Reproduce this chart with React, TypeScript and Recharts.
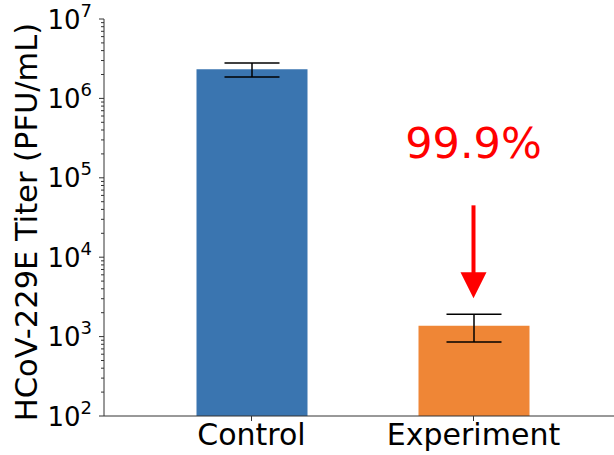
import React from "react";
import {
  BarChart,
  Bar,
  XAxis,
  YAxis,
  ErrorBar,
  Cell,
  ReferenceLine,
  ReferenceDot,
} from "recharts";

const categories = ["Control", "Experiment"];
const titerValues = [2330000, 1370];
const errorLower = [470000, 515];
const errorUpper = [460000, 540];
const barColors = ["#3a75b0", "#ef8636"];

const majorTicks = [100, 1000, 10000, 100000, 1000000, 10000000];
const majorTickExponents = ["2", "3", "4", "5", "6", "7"];
const minorTicks = [
  200, 300, 400, 500, 600, 700, 800, 900,
  2000, 3000, 4000, 5000, 6000, 7000, 8000, 9000,
  20000, 30000, 40000, 50000, 60000, 70000, 80000, 90000,
  200000, 300000, 400000, 500000, 600000, 700000, 800000, 900000,
  2000000, 3000000, 4000000, 5000000, 6000000, 7000000, 8000000, 9000000,
];
const allYTicks = [...majorTicks, ...minorTicks].sort((a, b) => a - b);

const yAxisLabel = "HCoV-229E Titer (PFU/mL)";
const annotationText = "99.9%";
const annotationCategory = "Experiment";
const annotationTextValue = 180000;
const arrowStartValue = 45000;
const arrowEndValue = 3050;

const data = categories.map((name, i) => ({
  name,
  titer: titerValues[i],
  err: [errorLower[i], errorUpper[i]],
}));

const FONT = "DejaVu Sans";
const AXIS_COLOR = "#333";

const YTick = (props: any) => {
  const { x, y, payload } = props;
  const idx = majorTicks.indexOf(payload.value);
  if (idx < 0) {
    return <line x1={x - 3} y1={y} x2={x} y2={y} stroke={AXIS_COLOR} strokeWidth={1} />;
  }
  const exp = majorTickExponents[idx];
  return (
    <g>
      <line x1={x - 5} y1={y} x2={x} y2={y} stroke={AXIS_COLOR} strokeWidth={1} />
      <text x={x - 12} y={y} textAnchor="end" fontFamily={FONT} fill="#000">
        <tspan fontSize={26} dy={9.5}>10</tspan>
        <tspan fontSize={18} dy={-12}>{exp}</tspan>
      </text>
    </g>
  );
};

const XTick = (props: any) => {
  const { x, y, payload } = props;
  return (
    <text x={x} y={y + 22} textAnchor="middle" fontFamily={FONT} fontSize={30} fill="#000">
      {payload.value}
    </text>
  );
};

const Arrow = (props: any) => {
  const { x1, y1, x2, y2 } = props;
  if (x1 == null || y1 == null) return <g />;
  const headLen = 26;
  const headHalf = 13;
  return (
    <g>
      <line x1={x1} y1={y1} x2={x2} y2={y2 - headLen + 1} stroke="#ff0000" strokeWidth={4} />
      <polygon
        points={`${x2 - headHalf},${y2 - headLen} ${x2 + headHalf},${y2 - headLen} ${x2},${y2}`}
        fill="#ff0000"
      />
    </g>
  );
};

const AnnotationText = (props: any) => {
  const { cx, cy } = props;
  return (
    <text x={cx} y={cy} textAnchor="middle" fontFamily={FONT} fontSize={43} fill="#ff0000">
      {annotationText}
    </text>
  );
};

const YLabel = () => {
  return (
    <text
      x={37}
      y={222}
      transform="rotate(-90 37 222)"
      textAnchor="middle"
      fontFamily={FONT}
      fontSize={30.5}
      fill="#000"
    >
      {yAxisLabel}
    </text>
  );
};

export default function App() {
  return (
    <div
      style={{
        position: "absolute",
        left: 0,
        top: 0,
        width: 614,
        height: 455,
        overflow: "hidden",
        background: "#fff",
      }}
    >
      <BarChart
        width={640}
        height={455}
        data={data}
        margin={{ top: 19, right: 19, bottom: 0, left: 0 }}
        barSize={111}
      >
        <XAxis
          dataKey="name"
          xAxisId="bottom"
          height={39}
          padding={{ left: 36.5, right: 36.5 }}
          stroke={AXIS_COLOR}
          tickSize={5}
          tick={<XTick />}
          interval={0}
        />
        <XAxis
          dataKey="name"
          xAxisId="top"
          orientation="top"
          height={0}
          padding={{ left: 36.5, right: 36.5 }}
          stroke={AXIS_COLOR}
          tick={false}
          tickLine={false}
        />
        <YAxis
          yAxisId="y"
          scale="log"
          type="number"
          domain={[100, 10000000]}
          ticks={allYTicks}
          allowDataOverflow
          width={104}
          stroke={AXIS_COLOR}
          tickLine={false}
          tickSize={0}
          tickMargin={0}
          tick={<YTick />}
          interval={0}
          label={<YLabel />}
        />
        <Bar
          dataKey="titer"
          xAxisId="bottom"
          yAxisId="y"
          isAnimationActive={false}
        >
          {data.map((d, i) => (
            <Cell key={d.name} fill={barColors[i]} />
          ))}
          <ErrorBar
            dataKey="err"
            width={27.5}
            stroke="#000"
            strokeWidth={1.5}
            isAnimationActive={false}
          />
        </Bar>
        <ReferenceLine
          xAxisId="bottom"
          yAxisId="y"
          segment={[
            { x: annotationCategory, y: arrowStartValue },
            { x: annotationCategory, y: arrowEndValue },
          ]}
          ifOverflow="visible"
          shape={<Arrow />}
        />
        <ReferenceDot
          xAxisId="bottom"
          yAxisId="y"
          x={annotationCategory}
          y={annotationTextValue}
          ifOverflow="visible"
          shape={<AnnotationText />}
        />
      </BarChart>
    </div>
  );
}
